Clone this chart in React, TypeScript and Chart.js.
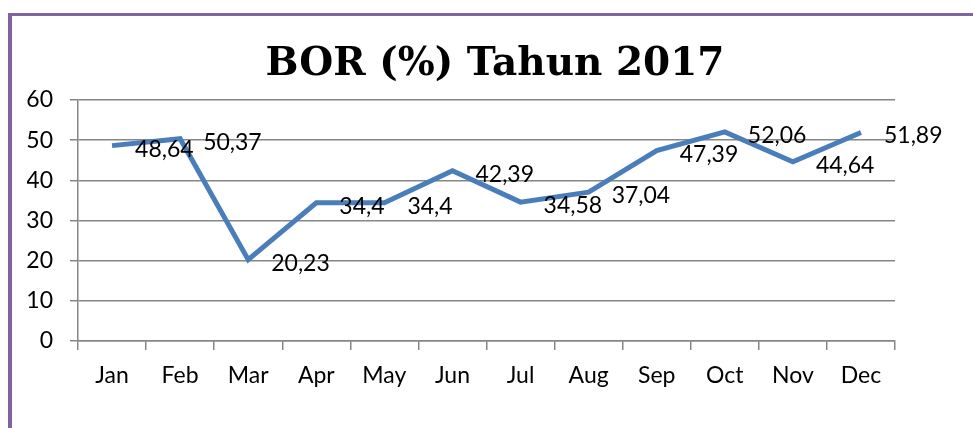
import React, { useEffect, useRef } from "react";
import { Chart, registerables } from "chart.js";

Chart.register(...registerables);

const months = ["Jan", "Feb", "Mar", "Apr", "May", "Jun", "Jul", "Aug", "Sep", "Oct", "Nov", "Dec"];
const borValues = [48.64, 50.37, 20.23, 34.4, 34.4, 42.39, 34.58, 37.04, 47.39, 52.06, 44.64, 51.89];
const titleText = "BOR (%) Tahun 2017";

const labelFont = "Lato, 'Open Sans', sans-serif";

const dataLabelPlugin = {
  id: "dataLabels",
  afterDatasetsDraw(chart: any) {
    const ctx = chart.ctx;
    const meta = chart.getDatasetMeta(0);
    const data = chart.data.datasets[0].data as number[];
    ctx.save();
    ctx.font = `23px ${labelFont}`;
    ctx.fillStyle = "#000";
    ctx.textAlign = "left";
    ctx.textBaseline = "middle";
    meta.data.forEach((pt: any, i: number) => {
      const txt = String(data[i]).replace(".", ",");
      ctx.fillText(txt, pt.x + 23, pt.y + 3.5);
    });
    ctx.restore();
  },
};

const titlePlugin = {
  id: "customTitle",
  afterDraw(chart: any) {
    const ctx = chart.ctx;
    ctx.save();
    ctx.font = `bold 39px 'DejaVu Serif', serif`;
    ctx.fillStyle = "#000";
    ctx.textAlign = "center";
    ctx.textBaseline = "alphabetic";
    ctx.fillText(titleText, 483, 59);
    ctx.restore();
  },
};

export default function App() {
  const ref = useRef<HTMLCanvasElement | null>(null);
  useEffect(() => {
    if (!ref.current) return;
    const chart = new Chart(ref.current, {
      type: "line",
      data: {
        labels: months,
        datasets: [
          {
            data: borValues,
            borderColor: "#4a7ebb",
            borderWidth: 5,
            pointRadius: 0,
            tension: 0,
            fill: false,
          },
        ],
      },
      options: {
        responsive: false,
        animation: false,
        devicePixelRatio: 1,
        layout: { padding: { left: 15, right: 78, top: 84, bottom: 0 } },
        plugins: {
          legend: { display: false },
          tooltip: { enabled: false },
          title: { display: false },
        },
        scales: {
          x: {
            offset: true,
            afterFit: (s: any) => {
              s.height = 87;
            },
            grid: {
              offset: true,
              drawOnChartArea: false,
              drawTicks: true,
              tickLength: 9,
              color: "#868686",
              lineWidth: 1.5,
            },
            border: { display: true, color: "#868686", width: 1.5 },
            ticks: {
              color: "#000",
              font: { family: labelFont, size: 23 },
              padding: 12,
              maxRotation: 0,
              autoSkip: false,
            },
          },
          y: {
            min: 0,
            max: 60,
            afterFit: (s: any) => {
              s.width = 51;
            },
            grid: {
              color: "#868686",
              lineWidth: 1.5,
              drawTicks: true,
              tickLength: 8,
            },
            border: { display: true, color: "#868686", width: 1.5 },
            ticks: {
              stepSize: 10,
              color: "#000",
              font: { family: labelFont, size: 23 },
              padding: 17,
            },
          },
        },
      },
      plugins: [dataLabelPlugin, titlePlugin],
    });
    return () => chart.destroy();
  }, []);

  return (
    <div
      style={{
        position: "fixed",
        left: 8,
        top: 13,
        width: 965,
        height: 415,
        borderTop: "3px solid #8064a2",
        borderLeft: "4px solid #8064a2",
        background: "#fff",
        boxSizing: "border-box",
      }}
    >
      <canvas ref={ref} width={961} height={412} style={{ display: "block" }} />
    </div>
  );
}
